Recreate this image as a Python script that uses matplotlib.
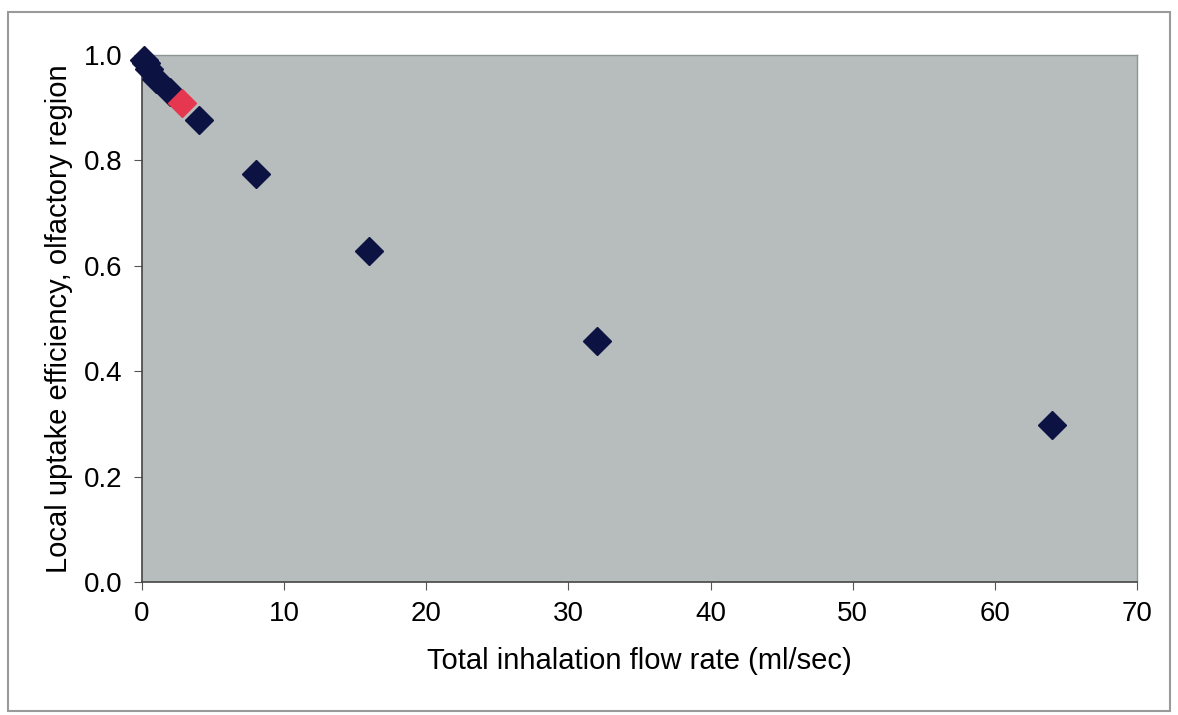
import matplotlib
matplotlib.use("Agg")
import matplotlib.pyplot as plt
from matplotlib.patches import Rectangle

# flow rate (ml/sec) vs local uptake efficiency
flow = [0.125, 0.25, 0.5, 1, 2, 4, 8, 16, 32, 64]
eff = [0.99, 0.985, 0.973, 0.955, 0.93, 0.877, 0.775, 0.628, 0.457, 0.297]
# highlighted point
flow_red = [2.8]
eff_red = [0.908]

xticks = [0, 10, 20, 30, 40, 50, 60, 70]
yticks = [0.0, 0.2, 0.4, 0.6, 0.8, 1.0]

plt.rcParams['font.family'] = ['Liberation Sans', 'DejaVu Sans']

fig = plt.figure(figsize=(11.78, 7.15), dpi=100)
fig.patch.set_facecolor("white")
# outer chart border
fig.patches.append(Rectangle((8/1178, 4/715), 1162/1178, 699/715, transform=fig.transFigure,
                             fill=False, edgecolor="#9a9a9a", linewidth=1.5))

ax = fig.add_axes([142/1178, 1 - 582/715, (1137-142)/1178, (582-55)/715])
ax.set_facecolor("#b7bdbd")

ax.plot(flow, eff, linestyle="none", marker="D", ms=14, color="#0c1242",
        markeredgecolor="#0c1242", clip_on=False, zorder=3)
ax.plot(flow_red, eff_red, linestyle="none", marker="D", ms=14, color="#e5374f",
        markeredgecolor="#e5374f", clip_on=False, zorder=3)

ax.set_xlim(0, 70)
ax.set_ylim(0, 1.0)
ax.set_xticks(xticks)
ax.set_yticks(yticks)
ax.set_yticklabels(["%.1f" % v for v in yticks])
ax.tick_params(labelsize=20, length=6, color="#555555", direction="out", pad=8)

for s in ["top", "right"]:
    ax.spines[s].set_color("#8f9494")
    ax.spines[s].set_linewidth(1)
for s in ["left", "bottom"]:
    ax.spines[s].set_color("#444444")
    ax.spines[s].set_linewidth(1.2)

ax.set_xlabel("Total inhalation flow rate (ml/sec)", fontsize=21, labelpad=14)
ax.set_ylabel("Local uptake efficiency, olfactory region", fontsize=21, labelpad=8)

fig.savefig("out.png", dpi=100)
